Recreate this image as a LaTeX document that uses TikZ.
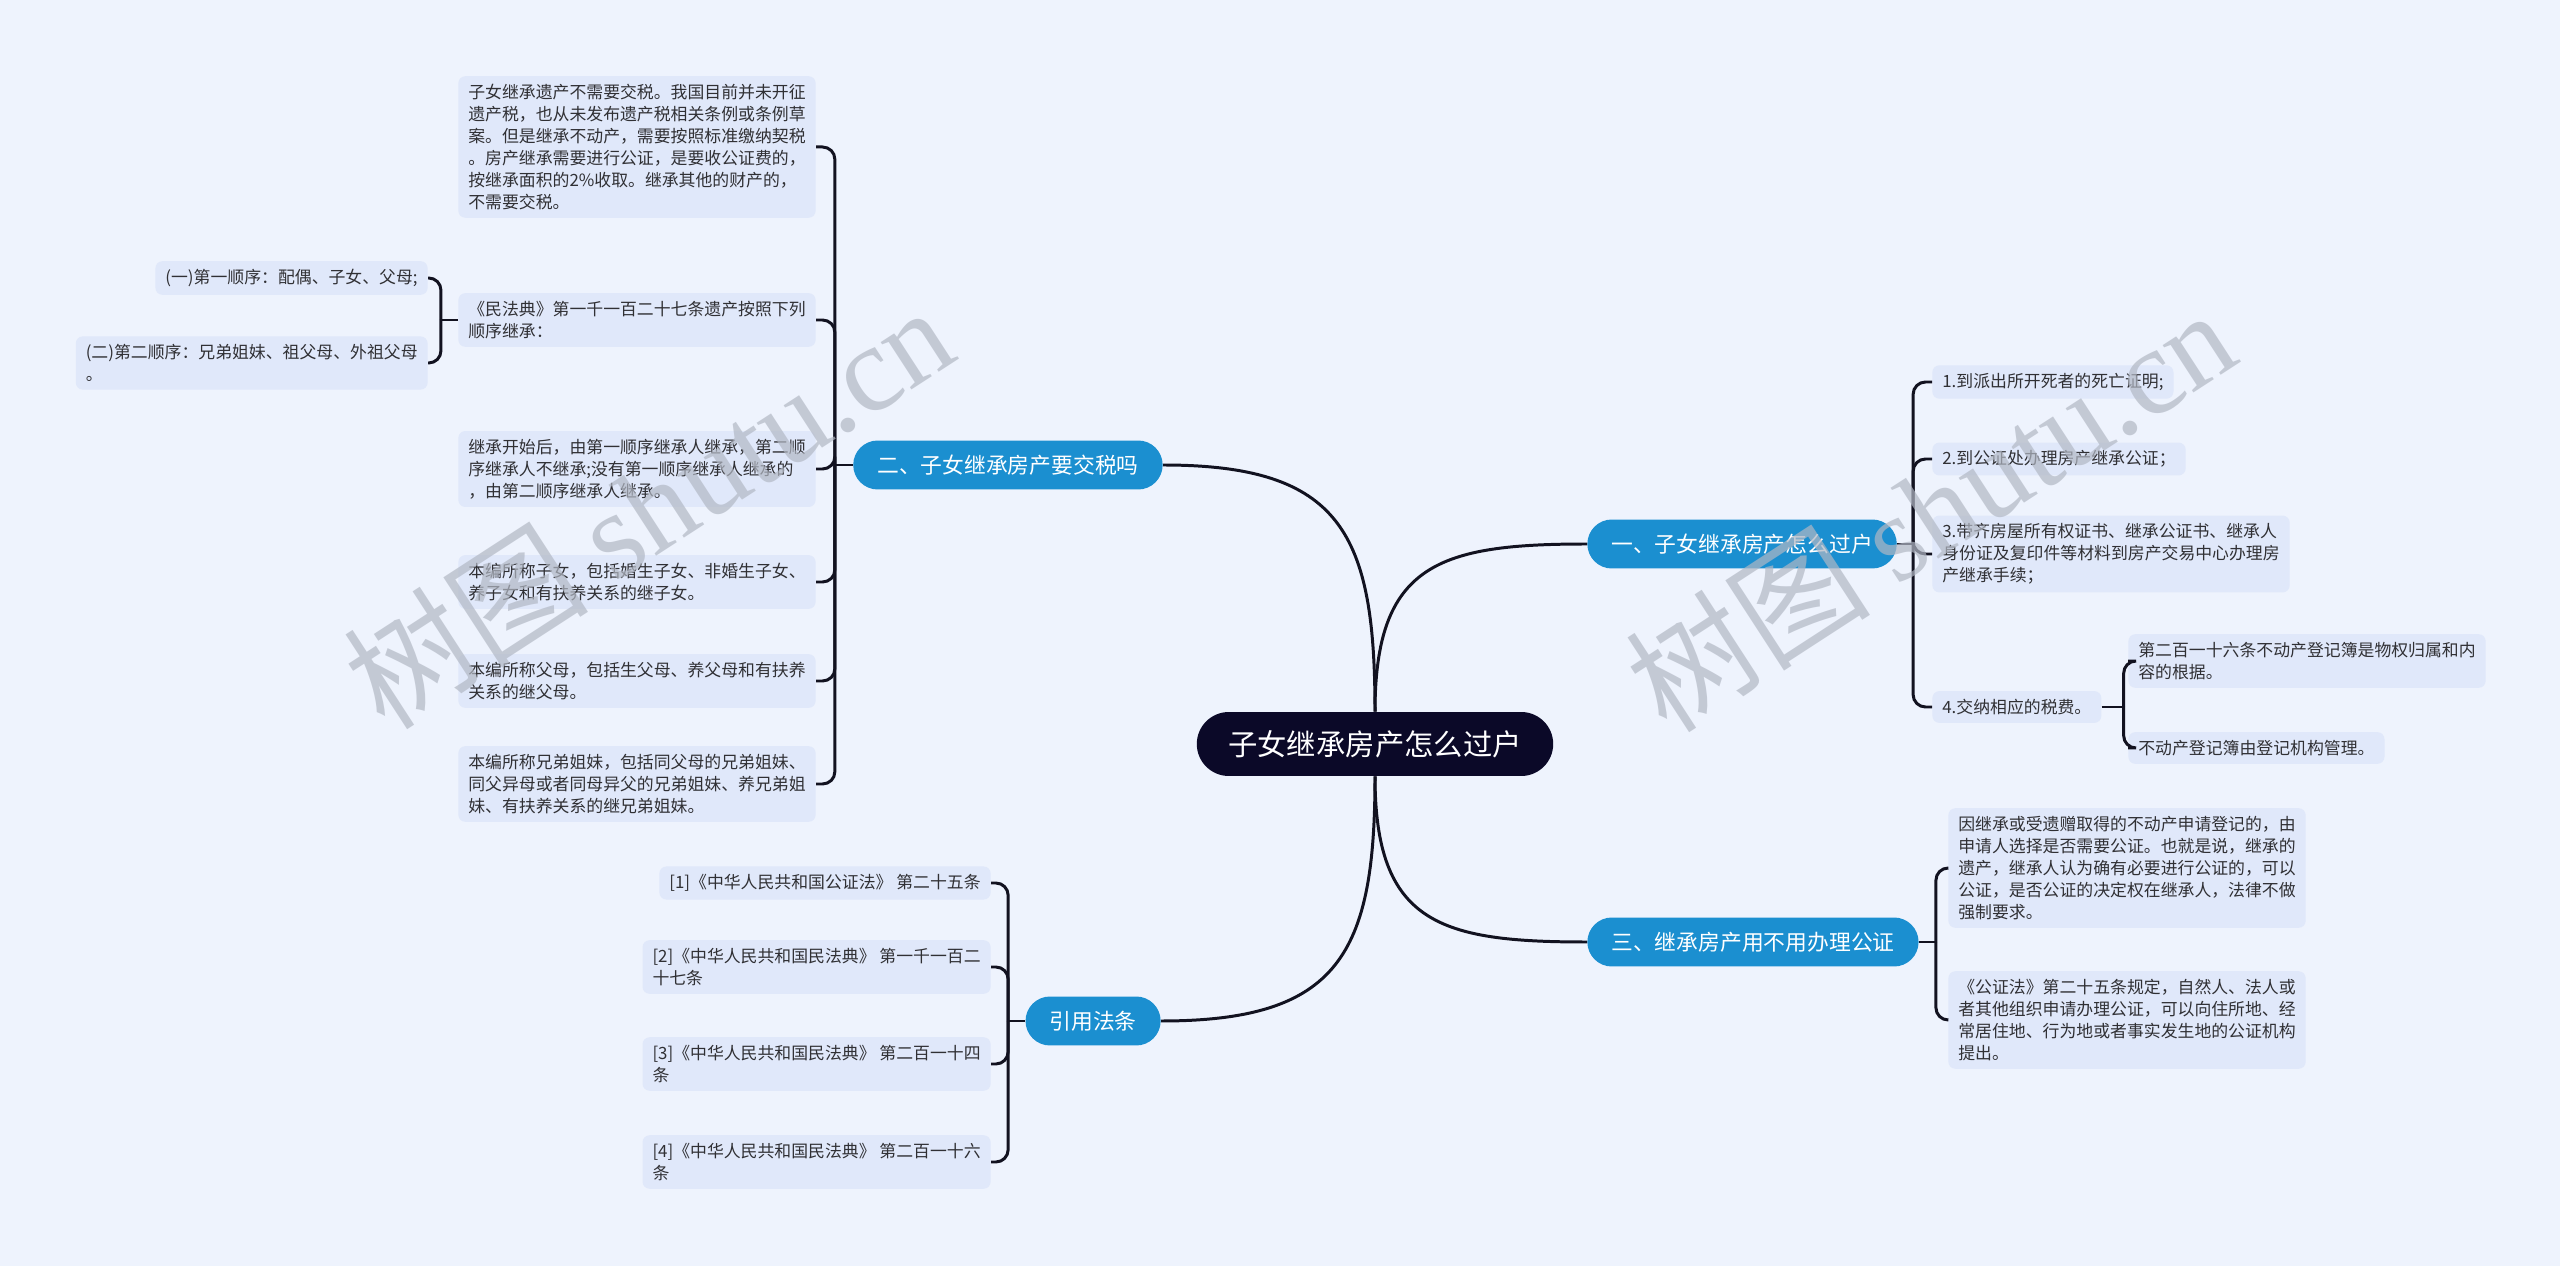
\documentclass[tikz,border=0pt]{standalone}
\usepackage{fontspec}
\setmainfont{Noto Sans CJK SC}
\newfontfamily\markfont{Liberation Serif}
\usetikzlibrary{positioning,calc}
\definecolor{bgblue}{RGB}{238,243,253}
\definecolor{leaffill}{RGB}{224,232,250}
\definecolor{branchblue}{RGB}{27,143,208}
\definecolor{rootnavy}{RGB}{11,9,40}
\definecolor{linedark}{RGB}{18,18,32}
\definecolor{textgray}{RGB}{48,48,52}
\definecolor{markgray}{RGB}{178,184,196}

\begin{document}
\begin{tikzpicture}[x=0.02cm,y=-0.02cm,
  root/.style={fill=rootnavy,text=white,rounded corners=0.64cm,minimum height=1.28cm,inner xsep=0.63cm,font=\fontsize{16.7}{20}\selectfont},
  branch/.style={fill=branchblue,text=white,rounded corners=0.49cm,minimum height=0.98cm,inner xsep=0.48cm,font=\fontsize{12.4}{15}\selectfont},
  leaf/.style={fill=leaffill,text=textgray,rounded corners=4pt,align=left,inner xsep=0.2cm,inner ysep=0.16cm,font=\fontsize{9.6}{12.5}\selectfont},
  link/.style={draw=linedark,line width=1.7pt},
  fork/.style={draw=linedark,line width=1.7pt,rounded corners=7pt},
  watermark/.style={rotate=33,text=markgray,opacity=0.7,font=\fontsize{70}{80}\selectfont}]
\useasboundingbox (0,0) rectangle (2560,1266);
\fill[bgblue] (0,0) rectangle (2560,1266);

\node[root] (root) at (1375,744) {子女继承房产怎么过户};
\node[branch,anchor=east] (tax) at (1163,465) {二、子女继承房产要交税吗};
\node[branch,anchor=west] (transfer) at (1587,544) {一、子女继承房产怎么过户};
\node[branch,anchor=west] (notary) at (1587,942) {三、继承房产用不用办理公证};
\node[branch,anchor=east] (laws) at (1161,1021) {引用法条};

\node[leaf,anchor=east] (tax1) at (816,147) {子女继承遗产不需要交税。我国目前并未开征\\遗产税，也从未发布遗产税相关条例或条例草\\案。但是继承不动产，需要按照标准缴纳契税\\。房产继承需要进行公证，是要收公证费的，\\按继承面积的2\%收取。继承其他的财产的，\\不需要交税。};
\node[leaf,anchor=east] (tax2) at (816,320) {《民法典》第一千一百二十七条遗产按照下列\\顺序继承：};
\node[leaf,anchor=east] (tax3) at (816,469) {继承开始后，由第一顺序继承人继承，第二顺\\序继承人不继承;没有第一顺序继承人继承的\\，由第二顺序继承人继承。};
\node[leaf,anchor=east] (tax4) at (816,582) {本编所称子女，包括婚生子女、非婚生子女、\\养子女和有扶养关系的继子女。};
\node[leaf,anchor=east] (tax5) at (816,681) {本编所称父母，包括生父母、养父母和有扶养\\关系的继父母。};
\node[leaf,anchor=east] (tax6) at (816,784) {本编所称兄弟姐妹，包括同父母的兄弟姐妹、\\同父异母或者同母异父的兄弟姐妹、养兄弟姐\\妹、有扶养关系的继兄弟姐妹。};
\node[leaf,anchor=east] (order1) at (428,278) {(一)第一顺序：配偶、子女、父母;};
\node[leaf,anchor=east] (order2) at (428,363) {(二)第二顺序：兄弟姐妹、祖父母、外祖父母\\。};

\node[leaf,anchor=east] (law1) at (991,883) {[1]《中华人民共和国公证法》 第二十五条};
\node[leaf,anchor=east] (law2) at (991,967) {[2]《中华人民共和国民法典》 第一千一百二\\十七条};
\node[leaf,anchor=east] (law3) at (991,1064) {[3]《中华人民共和国民法典》 第二百一十四\\条};
\node[leaf,anchor=east] (law4) at (991,1162) {[4]《中华人民共和国民法典》 第二百一十六\\条};

\node[leaf,anchor=west] (step1) at (1932,382) {1.到派出所开死者的死亡证明;};
\node[leaf,anchor=west] (step2) at (1932,459) {2.到公证处办理房产继承公证；};
\node[leaf,anchor=west] (step3) at (1932,554) {3.带齐房屋所有权证书、继承公证书、继承人\\身份证及复印件等材料到房产交易中心办理房\\产继承手续；};
\node[leaf,anchor=west] (step4) at (1932,707) {4.交纳相应的税费。};
\node[leaf,anchor=west] (reg1) at (2128,661) {第二百一十六条不动产登记簿是物权归属和内\\容的根据。};
\node[leaf,anchor=west] (reg2) at (2128,748) {不动产登记簿由登记机构管理。};

\node[leaf,anchor=west] (need1) at (1948,868) {因继承或受遗赠取得的不动产申请登记的，由\\申请人选择是否需要公证。也就是说，继承的\\遗产，继承人认为确有必要进行公证的，可以\\公证，是否公证的决定权在继承人，法律不做\\强制要求。};
\node[leaf,anchor=west] (need2) at (1948,1020) {《公证法》第二十五条规定，自然人、法人或\\者其他组织申请办理公证，可以向住所地、经\\常居住地、行为地或者事实发生地的公证机构\\提出。};

\draw[link] (root.north) to[out=90,in=0,looseness=1.4] (tax.east);
\draw[link] (root.north) to[out=90,in=180,looseness=1.4] (transfer.west);
\draw[link] (root.south) to[out=-90,in=180,looseness=1.4] (notary.west);
\draw[link] (root.south) to[out=-90,in=0,looseness=1.4] (laws.east);

\coordinate (taxfork) at ($(tax.west)+(-18,0)$);
\coordinate (orderfork) at ($(tax2.west)+(-17,0)$);
\coordinate (lawfork) at ($(laws.west)+(-17,0)$);
\coordinate (stepfork) at ($(transfer.east)+(16,0)$);
\coordinate (regfork) at ($(step4.east)+(22,0)$);
\coordinate (needfork) at ($(notary.east)+(17,0)$);

\draw[link] (tax.west) -- (taxfork);
\foreach \c in {tax1,tax2,tax3,tax4,tax5,tax6}
  \draw[fork] (taxfork) |- (\c.east);
\draw[link] (tax2.west) -- (orderfork);
\foreach \c in {order1,order2}
  \draw[fork] (orderfork) |- (\c.east);
\draw[link] (laws.west) -- (lawfork);
\foreach \c in {law1,law2,law3,law4}
  \draw[fork] (lawfork) |- (\c.east);
\draw[link] (transfer.east) -- (stepfork);
\foreach \c in {step1,step2,step3,step4}
  \draw[fork] (stepfork) |- (\c.west);
\draw[link] (step4.east) -- (regfork);
\foreach \c in {reg1,reg2}
  \draw[fork] (regfork) |- (\c.west);
\draw[link] (notary.east) -- (needfork);
\foreach \c in {need1,need2}
  \draw[fork] (needfork) |- (\c.west);

\node[watermark] (mark1) at (648,506) {树图 {\markfont shutu.cn}};
\node[watermark] (mark2) at (1930,509) {树图 {\markfont shutu.cn}};
\end{tikzpicture}
\end{document}
